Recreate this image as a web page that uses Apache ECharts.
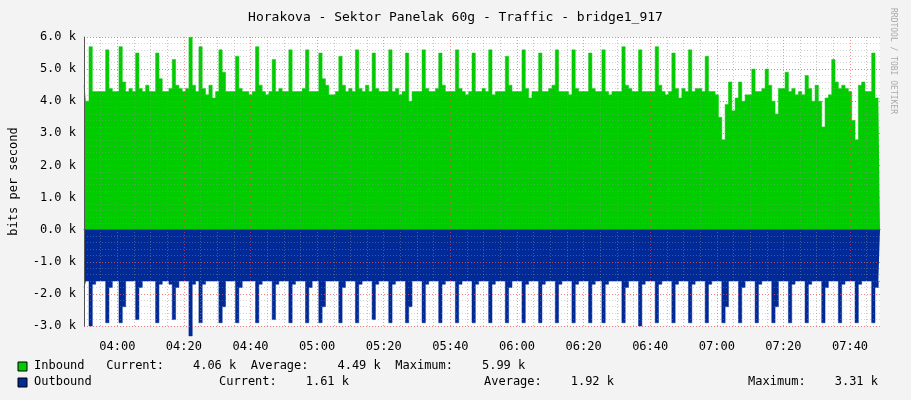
<!DOCTYPE html>
<html><head><meta charset="utf-8">
<script src="https://cdn.jsdelivr.net/npm/echarts@6/dist/echarts.min.js"></script>
<style>html,body{margin:0;padding:0;background:#f3f3f3}#c{width:911px;height:400px}</style>
</head><body><div id="c"></div>
<script>
// minutes from 03:50 to 07:49
const categories = [];
for (let m = 0; m < 240; m++) { const t = 230 + m; categories.push(String(Math.floor(t/60)).padStart(2,'0') + ':' + String(t%60).padStart(2,'0')); }
const inbound = [
4.5,4.0,5.7,4.3,4.3, 4.3,4.3,5.6,4.4,4.3, 4.3,5.7,4.6,4.3,4.4, 4.3,5.5,4.4,4.3,4.5,
4.3,4.3,5.5,4.7,4.3, 4.3,4.4,5.3,4.5,4.4, 4.3,4.4,5.99,4.5,4.3, 5.7,4.4,4.2,4.5,4.1,
4.3,5.6,4.9,4.3,4.3, 4.3,5.4,4.4,4.3,4.3, 4.2,4.3,5.7,4.5,4.3, 4.2,4.3,5.3,4.3,4.4,
4.3,4.3,5.6,4.3,4.3, 4.3,4.4,5.6,4.3,4.3, 4.3,5.5,4.7,4.5,4.2, 4.2,4.3,5.4,4.5,4.3,
4.4,4.3,5.6,4.4,4.3, 4.5,4.3,5.5,4.4,4.3, 4.3,4.3,5.6,4.3,4.4, 4.2,4.3,5.5,4.0,4.3,
4.3,4.3,5.6,4.4,4.3, 4.3,4.4,5.5,4.5,4.3, 4.3,4.3,5.6,4.4,4.3, 4.2,4.3,5.5,4.3,4.3,
4.4,4.3,5.6,4.2,4.3, 4.3,4.3,5.4,4.5,4.3, 4.3,4.3,5.6,4.4,4.1, 4.3,4.3,5.5,4.3,4.3,
4.4,4.5,5.6,4.3,4.3, 4.3,4.2,5.6,4.4,4.3, 4.3,4.3,5.5,4.4,4.3, 4.3,5.6,4.3,4.2,4.3,
4.3,4.3,5.7,4.5,4.4, 4.3,4.3,5.6,4.3,4.3, 4.3,4.3,5.7,4.5,4.3, 4.2,4.3,5.5,4.4,4.1,
4.4,4.3,5.6,4.3,4.4, 4.4,4.3,5.4,4.3,4.3, 4.2,3.5,2.8,3.9,4.6, 3.7,4.1,4.6,4.0,4.2,
4.2,5.0,4.3,4.3,4.4, 5.0,4.5,4.0,3.6,4.4, 4.4,4.9,4.3,4.4,4.2, 4.3,4.2,4.8,4.4,4.0,
4.5,4.0,3.2,4.1,4.2, 5.3,4.6,4.4,4.5,4.4, 4.3,3.4,2.8,4.5,4.6, 4.3,4.3,5.5,4.1,4.06
];
const outbound = [
-1.8,-1.6,-3.0,-1.7,-1.6, -1.6,-1.6,-2.9,-1.8,-1.6, -1.6,-2.9,-2.4,-1.6,-1.6, -1.6,-2.8,-1.8,-1.6,-1.6,
-1.6,-1.6,-2.9,-1.7,-1.6, -1.6,-1.7,-2.8,-1.8,-1.6, -1.6,-1.6,-3.31,-1.7,-1.6, -2.9,-1.7,-1.6,-1.6,-1.6,
-1.6,-2.9,-2.4,-1.6,-1.6, -1.6,-2.9,-1.8,-1.6,-1.6, -1.6,-1.6,-2.9,-1.7,-1.6, -1.6,-1.6,-2.8,-1.7,-1.6,
-1.6,-1.6,-2.9,-1.7,-1.6, -1.6,-1.6,-2.9,-1.8,-1.6, -1.6,-2.9,-2.4,-1.6,-1.6, -1.6,-1.6,-2.9,-1.8,-1.6,
-1.6,-1.6,-2.9,-1.7,-1.6, -1.6,-1.6,-2.8,-1.7,-1.6, -1.6,-1.6,-2.9,-1.7,-1.6, -1.6,-1.6,-2.9,-2.4,-1.6,
-1.6,-1.6,-2.9,-1.7,-1.6, -1.6,-1.6,-2.9,-1.7,-1.6, -1.6,-1.6,-2.9,-1.7,-1.6, -1.6,-1.6,-2.9,-1.7,-1.6,
-1.6,-1.6,-2.9,-1.7,-1.6, -1.6,-1.6,-2.9,-1.8,-1.6, -1.6,-1.6,-2.9,-1.7,-1.6, -1.6,-1.6,-2.9,-1.7,-1.6,
-1.6,-1.6,-2.9,-1.7,-1.6, -1.6,-1.6,-2.9,-1.7,-1.6, -1.6,-1.6,-2.9,-1.7,-1.6, -1.6,-2.9,-1.7,-1.6,-1.6,
-1.6,-1.6,-2.9,-1.8,-1.6, -1.6,-1.6,-3.0,-1.7,-1.6, -1.6,-1.6,-2.9,-1.7,-1.6, -1.6,-1.6,-2.9,-1.7,-1.6,
-1.6,-1.6,-2.9,-1.7,-1.6, -1.6,-1.6,-2.9,-1.7,-1.6, -1.6,-1.6,-2.9,-2.4,-1.6, -1.6,-1.6,-2.9,-1.8,-1.6,
-1.6,-1.6,-2.9,-1.7,-1.6, -1.6,-1.6,-2.9,-2.4,-1.6, -1.6,-1.6,-2.9,-1.7,-1.6, -1.6,-1.6,-2.9,-1.7,-1.6,
-1.6,-1.6,-2.9,-1.8,-1.6, -1.6,-1.6,-2.9,-1.7,-1.6, -1.6,-1.6,-2.9,-1.7,-1.6, -1.6,-1.6,-2.9,-1.8,-1.61
];
const title = 'Horakova - Sektor Panelak 60g - Traffic - bridge1_917';
const F = 'DejaVu Sans Mono';
const chart = echarts.init(document.getElementById('c'));
const grid = {left:80, right:31, top:37, bottom:74};
const area = (data, color) => ({type:'line', data, step:'middle', symbol:'none', clip:false, z:2,
  lineStyle:{width:0.5, color}, areaStyle:{color, opacity:1}});
chart.setOption({
  backgroundColor:'#f3f3f3', animation:false,
  title:{text:title, left:'center', top:6, textStyle:{fontFamily:F, fontSize:13, fontWeight:'normal', color:'#000'}},
  grid:Object.assign({show:true, backgroundColor:'#fff', borderWidth:0}, grid),
  xAxis:[
    {type:'category', data:categories, boundaryGap:false, offset:9, z:5,
     axisLine:{lineStyle:{color:'#555'}}, axisTick:{show:false},
     axisLabel:{interval:(i)=>i%20===10, fontFamily:F, fontSize:12, color:'#000', margin:6},
     splitLine:{show:true, interval:(i)=>i%5===0 && i%20!==10 && i>0, lineStyle:{color:'rgba(140,140,140,0.5)', type:[1,2]}}},
    {type:'category', data:categories, boundaryGap:false, show:true, z:5, axisLine:{show:false}, axisTick:{show:false}, axisLabel:{show:false},
     splitLine:{show:true, interval:(i)=>i%20===10, lineStyle:{color:'rgba(255,70,70,0.6)', type:[1,2]}}}
  ],
  yAxis:[
    {type:'value', min:-3, max:6, interval:1, z:5, name:'bits per second', nameLocation:'middle', nameGap:64,
     nameTextStyle:{fontFamily:F, fontSize:12, color:'#000'},
     axisLine:{show:true, lineStyle:{color:'#555'}}, axisTick:{show:false},
     axisLabel:{fontFamily:F, fontSize:12, color:'#000', margin:8, formatter:(v)=>v.toFixed(1)+' k'},
     splitLine:{show:true, lineStyle:{color:'rgba(255,70,70,0.6)', type:[1,2]}}},
    {type:'value', min:-3, max:6, interval:0.2, z:4, axisLine:{show:false}, axisTick:{show:false}, axisLabel:{show:false},
     splitLine:{show:true, lineStyle:{color:'rgba(150,150,150,0.4)', type:[1,2]}}}
  ],
  series:[ area(inbound, '#00cc00'), area(outbound, '#002a97') ],
  graphic:[
    {type:'text', rotation:-Math.PI/2, x:897, y:8, style:{text:'RRDTOOL / TOBI OETIKER', fontFamily:F, fontSize:8, fill:'#aaa'}},
    {type:'rect', shape:{x:18,y:362,width:9,height:9}, style:{fill:'#00cc00', stroke:'#000', lineWidth:1}},
    {type:'rect', shape:{x:18,y:378,width:9,height:9}, style:{fill:'#002a97', stroke:'#000', lineWidth:1}},
    {type:'text', x:34, y:360, style:{text:'Inbound   Current:    4.06 k  Average:    4.49 k  Maximum:    5.99 k', fontFamily:F, fontSize:12, fill:'#000'}},
    {type:'text', x:34, y:376, style:{text:'Outbound', fontFamily:F, fontSize:12, fill:'#000'}},
    {type:'text', x:219, y:376, style:{text:'Current:    1.61 k', fontFamily:F, fontSize:12, fill:'#000'}},
    {type:'text', x:484, y:376, style:{text:'Average:    1.92 k', fontFamily:F, fontSize:12, fill:'#000'}},
    {type:'text', x:748, y:376, style:{text:'Maximum:    3.31 k', fontFamily:F, fontSize:12, fill:'#000'}}
  ]
});
</script></body></html>
